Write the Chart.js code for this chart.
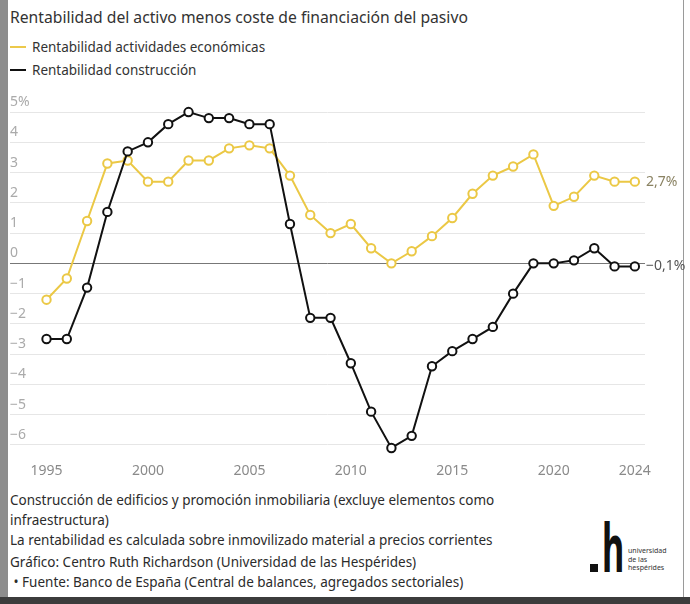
<!DOCTYPE html>
<html lang="es">
<head>
<meta charset="utf-8">
<title>Rentabilidad del activo menos coste de financiación del pasivo</title>
<script src="https://cdn.jsdelivr.net/npm/chart.js@4.4.1/dist/chart.umd.min.js"></script>
<style>
  html, body { margin: 0; padding: 0; }
  body { width: 690px; height: 604px; background: #3c3c3c; position: relative; overflow: hidden; font-family: "Noto Sans", "Open Sans", sans-serif; }
  .franja { position: absolute; left: 0; top: 0; width: 8px; height: 597px; background: #8d8d8d; }
  .tarjeta { position: absolute; left: 8px; top: 0; width: 682px; height: 597px; background: #fff; }
  .borde { position: absolute; left: 683px; top: 0; width: 1px; height: 597px; background: #9a9a9a; }
  .txt { position: absolute; white-space: nowrap; color: #2b2b2b; }
  .titulo { left: 10px; top: 6px; font-size: 15.7px; line-height: 22px; color: #333; }
  .leyenda { left: 10px; font-size: 13.5px; line-height: 20px; color: #333; }
  .leyenda i { display: inline-block; width: 16px; height: 2px; vertical-align: middle; margin: 0 6px 3px 0; }
  .nota { left: 10px; font-size: 13.5px; line-height: 20px; }
  #wrap { position: absolute; left: 0; top: 90px; width: 690px; height: 390px; }
  .logo-p { position: absolute; left: 590px; top: 564px; width: 8px; height: 8px; background: #111; }
  .logo-h { position: absolute; left: 602px; top: 513px; font-size: 66px; line-height: 66px; font-weight: 700; color: #111;
            transform: scaleX(0.52); transform-origin: left top; }
  .logo-t { position: absolute; left: 628px; top: 547px; font-size: 7px; line-height: 8.5px; color: #333; }
</style>
</head>
<body>
<div class="franja"></div>
<div class="tarjeta"></div>
<div class="borde"></div>

<div class="txt titulo">Rentabilidad del activo menos coste de financiación del pasivo</div>
<div class="txt leyenda" style="top:37px"><i style="background:#ecc94b"></i>Rentabilidad actividades económicas</div>
<div class="txt leyenda" style="top:60px"><i style="background:#111"></i>Rentabilidad construcción</div>

<div id="wrap"><canvas id="grafico"></canvas></div>

<div class="txt nota" style="top:490px">Construcción de edificios y promoción inmobiliaria (excluye elementos como</div>
<div class="txt nota" style="top:510px">infraestructura)</div>
<div class="txt nota" style="top:530px">La rentabilidad es calculada sobre inmovilizado material a precios corrientes</div>
<div class="txt nota" style="top:552px">Gráfico: Centro Ruth Richardson (Universidad de las Hespérides)</div>
<div class="txt nota" style="top:572px">&nbsp;• Fuente: Banco de España (Central de balances, agregados sectoriales)</div>

<div class="logo-p"></div>
<div class="logo-h">h</div>
<div class="logo-t">universidad<br>de las<br>hespérides</div>

<script>
// ==============================
// Datos
// ==============================
const anios = [1995, 1996, 1997, 1998, 1999, 2000, 2001, 2002, 2003, 2004,
               2005, 2006, 2007, 2008, 2009, 2010, 2011, 2012, 2013, 2014,
               2015, 2016, 2017, 2018, 2019, 2020, 2021, 2022, 2023, 2024];
const actividadesEconomicas = [-1.2, -0.5, 1.4, 3.3, 3.4, 2.7, 2.7, 3.4, 3.4, 3.8,
                               3.9, 3.8, 2.9, 1.6, 1.0, 1.3, 0.5, 0.0, 0.4, 0.9,
                               1.5, 2.3, 2.9, 3.2, 3.6, 1.9, 2.2, 2.9, 2.7, 2.7];
const construccion = [-2.5, -2.5, -0.8, 1.7, 3.7, 4.0, 4.6, 5.0, 4.8, 4.8,
                      4.6, 4.6, 1.3, -1.8, -1.8, -3.3, -4.9, -6.1, -5.7, -3.4,
                      -2.9, -2.5, -2.1, -1.0, 0.0, 0.0, 0.1, 0.5, -0.1, -0.1];
const ticksX = [1995, 2000, 2005, 2010, 2015, 2020, 2024];
const ticksY = [-6, -5, -4, -3, -2, -1, 0, 1, 2, 3, 4, 5];
const etiquetasFinales = ['2,7%', '\u22120,1%'];

// ==============================
// Estilo
// ==============================
const AMARILLO = '#ebc845';
const NEGRO = '#111111';
const fuente = '"Noto Sans", "Open Sans", sans-serif';

const pares = (serie) => anios.map((a, i) => ({ x: a, y: serie[i] }));
const fmtY = (v) => v === 5 ? '5%' : (v < 0 ? '\u2212' + Math.abs(v) : String(v));

// etiquetas al final de cada línea
const etiquetasFin = {
  id: 'etiquetasFin',
  afterDatasetsDraw(chart) {
    const ctx = chart.ctx;
    const colores = ['#8a8262', '#555'];
    ctx.save();
    ctx.font = `14px ${fuente}`;
    ctx.textBaseline = 'middle';
    ctx.textAlign = 'left';
    chart.data.datasets.forEach((ds, i) => {
      const meta = chart.getDatasetMeta(i);
      const ultimo = meta.data[meta.data.length - 1];
      ctx.fillStyle = colores[ds.idx];
      ctx.fillText(etiquetasFinales[ds.idx], chart.chartArea.right + 1, ultimo.y);
    });
    ctx.restore();
  }
};

new Chart(document.getElementById('grafico'), {
  type: 'line',
  data: {
    datasets: [
      { idx: 1, data: pares(construccion), borderColor: NEGRO, pointBorderColor: NEGRO },
      { idx: 0, data: pares(actividadesEconomicas), borderColor: AMARILLO, pointBorderColor: AMARILLO }
    ].map(d => ({ ...d, borderWidth: 2, tension: 0, pointRadius: 4.2, pointBorderWidth: 2,
                  pointBackgroundColor: '#fff', clip: false }))
  },
  plugins: [etiquetasFin],
  options: {
    responsive: true,
    maintainAspectRatio: false,
    animation: false,
    events: [],
    layout: { padding: { left: 10, right: 45, top: 16, bottom: 0 } },
    plugins: { legend: { display: false }, tooltip: { enabled: false } },
    scales: {
      x: {
        type: 'linear', min: 1993.2, max: 2024.5,
        afterBuildTicks: (s) => { s.ticks = ticksX.map(v => ({ value: v })); },
        afterFit: (s) => { s.height = 29; },
        grid: { display: false }, border: { display: false },
        ticks: { color: '#8a8a8a', font: { family: fuente, size: 14 }, padding: 4, maxRotation: 0,
                 callback: (v) => String(v) }
      },
      y: {
        min: -6.2, max: 5.2,
        afterBuildTicks: (s) => { s.ticks = ticksY.map(v => ({ value: v })); },
        afterFit: (s) => { s.width = 0; },
        border: { display: false },
        grid: { drawTicks: false, lineWidth: 1, color: (c) => c.tick && c.tick.value === 0 ? '#777' : '#e6e6e6' },
        ticks: { mirror: true, padding: 0, labelOffset: -10, color: '#aaa',
                 font: { family: fuente, size: 14 }, callback: fmtY }
      }
    }
  }
});
</script>
</body>
</html>
